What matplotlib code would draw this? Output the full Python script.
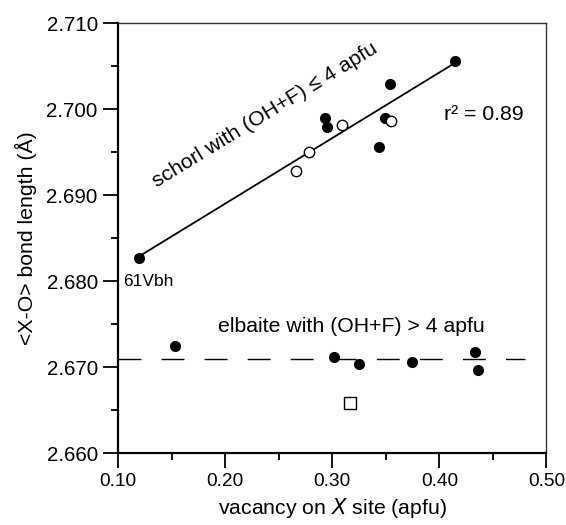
import numpy as np
import matplotlib
matplotlib.use("Agg")
import matplotlib.pyplot as plt
from matplotlib.ticker import MultipleLocator, FormatStrFormatter

plt.rcParams["font.family"] = ["Liberation Sans", "DejaVu Sans"]

# schorl, (OH+F) <= 4 apfu
schorl_filled_x = [0.1195, 0.4144, 0.3536, 0.2929, 0.2950, 0.3493, 0.3437]
schorl_filled_y = [2.6827, 2.7056, 2.7029, 2.6990, 2.6979, 2.6990, 2.6956]
schorl_open_x = [0.3087, 0.3549, 0.2786, 0.2662]
schorl_open_y = [2.6981, 2.6986, 2.6950, 2.6928]

# elbaite, (OH+F) > 4 apfu
elbaite_filled_x = [0.1536, 0.3019, 0.3254, 0.3747, 0.4330, 0.4361]
elbaite_filled_y = [2.6725, 2.6712, 2.6704, 2.6706, 2.6717, 2.6697]
elbaite_square_x = [0.3164]
elbaite_square_y = [2.6658]

# fitted / mean lines
fit_x = [0.120, 0.415]
fit_y = [2.6829, 2.7054]
mean_x = [0.10, 0.48]
mean_y = [2.6709, 2.6709]

FS = 15.3

fig = plt.figure(figsize=(5.66, 5.25), dpi=100)
ax = fig.add_axes([0.2085, 0.137, 0.757, 0.819])

ax.plot(fit_x, fit_y, color="black", lw=1.3, zorder=2)
ax.plot(mean_x, mean_y, color="black", lw=1.0, dashes=(16.5, 14.5), zorder=2)

ax.plot(schorl_filled_x, schorl_filled_y, "o", ms=7, color="black", zorder=3)
ax.plot(schorl_open_x, schorl_open_y, "o", ms=7.5, mfc="white", mec="black",
        mew=1.0, zorder=4)
ax.plot(elbaite_filled_x, elbaite_filled_y, "o", ms=7, color="black", zorder=3)
ax.plot(elbaite_square_x, elbaite_square_y, "s", ms=8, mfc="white", mec="black",
        mew=1.0, zorder=3)

ax.set_xlim(0.10, 0.50)
ax.set_ylim(2.660, 2.710)
ax.xaxis.set_major_locator(MultipleLocator(0.10))
ax.xaxis.set_minor_locator(MultipleLocator(0.05))
ax.yaxis.set_major_locator(MultipleLocator(0.010))
ax.yaxis.set_minor_locator(MultipleLocator(0.005))
ax.xaxis.set_major_formatter(FormatStrFormatter("%.2f"))
ax.yaxis.set_major_formatter(FormatStrFormatter("%.3f"))

ax.tick_params(which="major", direction="out", length=10.5, width=1.3, pad=4)
ax.tick_params(axis="y", labelsize=14.8)
ax.tick_params(axis="x", labelsize=13.8)
ax.tick_params(which="minor", direction="out", length=5, width=1.3)
ax.tick_params(top=False, right=False)

for s in ["left", "bottom"]:
    ax.spines[s].set_linewidth(1.6)
for s in ["top", "right"]:
    ax.spines[s].set_linewidth(1.0)
    ax.spines[s].set_color("#333333")

ax.set_xlabel("vacancy on $\\it{X}$ site (apfu)", fontsize=FS, labelpad=4)
ax.set_ylabel("<X-O> bond length (Å)", fontsize=FS, labelpad=7)

ax.text(0.2370, 2.6993, "schorl with (OH+F) ≤ 4 apfu", fontsize=FS,
        rotation=31.5, rotation_mode="anchor", ha="center", va="center")
ax.text(0.404, 2.6994, "r² = 0.89", fontsize=FS, ha="left", va="center")
ax.text(0.1045, 2.6799, "61Vbh", fontsize=12.5, ha="left", va="center")
ax.text(0.193, 2.6747, "elbaite with (OH+F) > 4 apfu", fontsize=FS,
        ha="left", va="center")

fig.savefig("out.png", dpi=100)
